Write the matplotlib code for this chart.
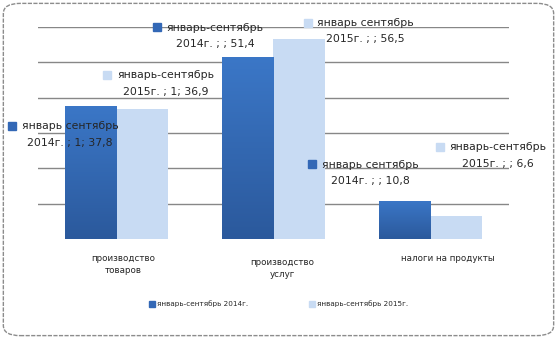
import numpy as np
import matplotlib
matplotlib.use('Agg')
import matplotlib.pyplot as plt
from matplotlib.patches import FancyBboxPatch
from matplotlib.colors import LinearSegmentedColormap
import matplotlib.transforms as mtransforms

categories = ["производство\nтоваров", "производство\nуслуг", "налоги на продукты"]
series_names = ["январь-сентябрь 2014г.", "январь-сентябрь 2015г."]
values_2014 = [37.8, 51.4, 10.8]
values_2015 = [36.9, 56.5, 6.6]

# data label texts as they appear on the chart
label_first = [["январь сентябрь", "январь-сентябрь", "январь сентябрь"],
               ["январь-сентябрь", "январь сентябрь", "январь-сентябрь"]]
label_second = [["2014г. ; 1; 37,8", "2014г. ; ; 51,4", "2014г. ; ; 10,8"],
                ["2015г. ; 1; 36,9", "2015г. ; ; 56,5", "2015г. ; ; 6,6"]]
# where each data label block sits (x, y in data units)
label_pos = [[(-0.296, 29.6), (0.627, 57.5), (1.615, 18.7)],
             [(0.312, 44.0), (1.586, 58.9), (2.427, 23.6)]]

dark = "#3368b6"
light = "#c8dbf3"
text_col = "#262626"
dark_grad = LinearSegmentedColormap.from_list("dk", ["#2b599c", "#3b77c7"])

fig = plt.figure(figsize=(5.57, 3.39), dpi=100)

# rounded outer border
frame = FancyBboxPatch((0.006, 0.01), 0.988, 0.98,
                       boxstyle="round,pad=0,rounding_size=0.03",
                       transform=fig.transFigure, facecolor="none",
                       edgecolor="#8c8c8c", linewidth=1.0, linestyle=(0, (3, 1)))
fig.patches.append(frame)

ax = fig.add_axes([0.068, 0.295, 0.846, 0.625])
ax.patch.set_alpha(0)

for v in range(10, 61, 10):
    ax.axhline(v, color="#878787", lw=1.0, zorder=1)

x = np.arange(len(categories))
w = 0.33
bars_a = ax.bar(x - w / 2, values_2014, w, color=dark, zorder=2, linewidth=0)
bars_b = ax.bar(x + w / 2, values_2015, w, color=light, zorder=2, linewidth=0)

# vertical gradient on the 2014 bars
grad = np.linspace(0, 1, 256).reshape(-1, 1)
for b in bars_a:
    bx, by = b.get_x(), b.get_y()
    bw, bh = b.get_width(), b.get_height()
    im = ax.imshow(grad, cmap=dark_grad, origin="lower", aspect="auto",
                   extent=[bx, bx + bw, by, by + bh], zorder=2.1)
    im.set_clip_path(b)
ax.set_xlim(-0.5, 2.5)
ax.set_ylim(0, 60)

for s in ax.spines.values():
    s.set_visible(False)
ax.set_yticks([])
ax.set_xticks(x)
ax.set_xticklabels(categories, fontsize=6.3, color=text_col, linespacing=1.45)
ax.tick_params(axis="x", length=0, pad=11)
shifts = [(7, 0), (9, -4), (17, 0)]
for lbl, (dx, dy) in zip(ax.get_xticklabels(), shifts):
    off = mtransforms.ScaledTranslation(dx / 100, dy / 100, fig.dpi_scale_trans)
    lbl.set_transform(lbl.get_transform() + off)

# data labels with their legend keys
key_off = mtransforms.ScaledTranslation(-58 / 100, 8.5 / 100, fig.dpi_scale_trans)
for si, col in enumerate([dark, light]):
    for ci in range(len(categories)):
        lx, ly = label_pos[si][ci]
        ax.annotate(label_first[si][ci], (lx, ly), xytext=(0, 6), textcoords="offset points",
                    ha="center", va="center", fontsize=7.8, color=text_col, zorder=5)
        ax.annotate(label_second[si][ci], (lx, ly), xytext=(0, -6), textcoords="offset points",
                    ha="center", va="center", fontsize=7.8, color=text_col, zorder=5)
        ax.plot([lx], [ly], marker="s", markersize=5.5, color=col, linestyle="none",
                transform=ax.transData + key_off, zorder=5, clip_on=False)

handles = [plt.Rectangle((0, 0), 1, 1, color=dark), plt.Rectangle((0, 0), 1, 1, color=light)]
fig.legend(handles, series_names, loc="center", bbox_to_anchor=(0.5, 1 - 304 / 339),
           ncol=2, frameon=False, fontsize=5.2, handlelength=0.9, handleheight=1.0,
           handletextpad=0.25, columnspacing=8.4, labelcolor=text_col)

fig.savefig("out.png", dpi=100)
